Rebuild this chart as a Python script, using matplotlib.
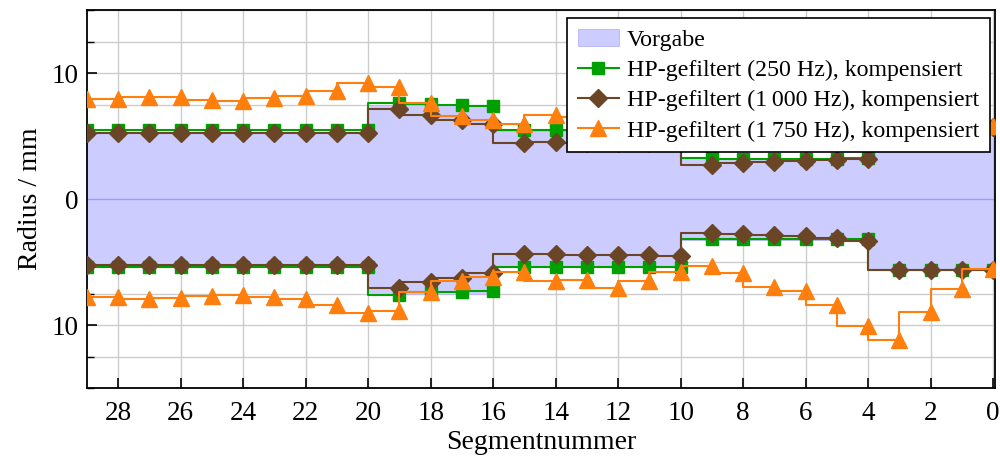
import numpy as np
import matplotlib
matplotlib.use("Agg")
import matplotlib.pyplot as plt
from matplotlib.ticker import MultipleLocator, FuncFormatter

plt.rcParams['font.family'] = ['Liberation Serif', 'DejaVu Serif']
plt.rcParams['mathtext.fontset'] = 'stix'

segments = np.arange(30)

# values per segment 0..29
vorgabe = [5.65] * 4 + [3.25] * 6 + [5.4] * 6 + [7.5] * 4 + [5.25] * 10

green_upper = [5.7, 5.7, 5.7, 5.7,
               3.25, 3.2, 3.2, 3.2, 3.2, 3.25,
               5.45, 5.45, 5.45, 5.45, 5.45, 5.45,
               7.4, 7.45, 7.55, 7.6] + [5.45] * 10
green_lower = [-5.65] * 4 + [-3.2] * 6 + [-5.42] * 6 + \
              [-7.3, -7.35, -7.4, -7.57] + [-5.4] * 10

brown_upper = [5.7, 5.7, 5.7, 5.7,
               3.15, 3.1, 3.04, 2.96, 2.83, 2.70,
               4.52, 4.45, 4.45, 4.45, 4.5, 4.47,
               6.0, 6.3, 6.67, 7.12] + [5.25] * 10
brown_lower = [-5.65, -5.65, -5.65, -5.65,
               -3.31, -3.12, -2.94, -2.86, -2.78, -2.67,
               -4.52, -4.45, -4.44, -4.4, -4.37, -4.37,
               -5.9, -6.24, -6.56, -7.09] + [-5.2] * 10

orange_upper = [5.8, 7.2, 9.0, 11.1, 10.0, 8.4, 7.3, 7.0, 5.9, 5.3,
                5.7, 6.5, 7.0, 6.5, 6.67, 6.0, 6.32, 6.59, 7.65, 8.9,
                9.2, 8.6, 8.2, 7.99, 7.8, 7.88, 8.12, 8.12, 7.94, 7.94]
orange_lower = [-5.56, -7.14, -8.99, -11.19, -10.05, -8.39, -7.27, -7.0, -5.9, -5.29,
                -5.75, -6.48, -7.06, -6.43, -6.48, -5.82, -6.16, -6.48, -7.4, -8.85,
                -9.05, -8.39, -7.94, -7.8, -7.62, -7.67, -7.86, -7.94, -7.8, -7.75]

labels = ["Vorgabe",
          "HP-gefiltert (250 Hz), kompensiert",
          "HP-gefiltert (1\u2009000 Hz), kompensiert",
          "HP-gefiltert (1\u2009750 Hz), kompensiert"]

fig = plt.figure(figsize=(10, 4.61), dpi=100)
ax = fig.add_axes([0.087, 0.158, 0.908, 0.820])

vg = np.array(vorgabe)
ax.fill_between(segments, -vg, vg, step='post', color='#ccccff',
                edgecolor='#b3b3ff', linewidth=0.6, label=labels[0], zorder=2)
ax.axhline(0, color='#9999ff', lw=1.0, zorder=2.1)

series = [
    (green_upper, green_lower, '#00a000', 's', 9, labels[1]),
    (brown_upper, brown_lower, '#6b4626', 'D', 9, labels[2]),
    (orange_upper, orange_lower, '#ff7f0e', '^', 11, labels[3]),
]
for up, lo, col, mk, ms, lab in series:
    ax.plot(segments, up, drawstyle='steps-post', color=col, lw=1.5,
            marker=mk, ms=ms, label=lab, zorder=3)
    ax.plot(segments, lo, drawstyle='steps-post', color=col, lw=1.5,
            marker=mk, ms=ms, zorder=3)

ax.set_xlim(29, -0.06)
ax.set_ylim(-15, 15)
ax.xaxis.set_major_locator(MultipleLocator(2))
ax.yaxis.set_major_locator(MultipleLocator(10))
ax.yaxis.set_minor_locator(MultipleLocator(2.5))
ax.yaxis.set_major_formatter(FuncFormatter(lambda v, p: f"{abs(v):.0f}"))
ax.tick_params(direction='in', labelsize=19.5, length=7, width=1.2,
               top=False, right=False, pad=9)
ax.tick_params(axis='y', pad=6)
ax.tick_params(which='minor', direction='in', length=5, width=1.0)
ax.grid(True, which='both', color='#cccccc', lw=1.0, zorder=0)
ax.set_axisbelow(True)
for s in ax.spines.values():
    s.set_linewidth(1.3)

ax.set_xlabel("Segmentnummer", fontsize=20, labelpad=3)
ax.set_ylabel("Radius / mm", fontsize=20, labelpad=6)

leg = ax.legend(loc='upper right', bbox_to_anchor=(0.9945, 0.979),
                borderaxespad=0, fontsize=17.2, frameon=True, fancybox=False,
                edgecolor='black', framealpha=1, handlelength=1.7,
                handletextpad=0.35, labelspacing=0.36, borderpad=0.45)
leg.get_frame().set_linewidth(1.2)

fig.savefig("out.png", dpi=100)
